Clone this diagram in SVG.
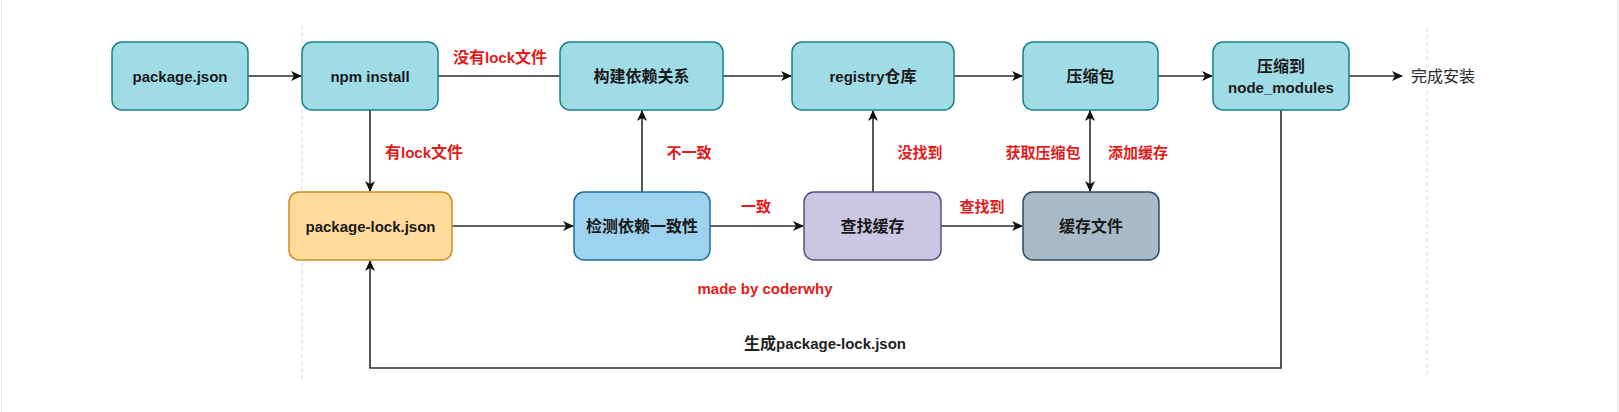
<svg xmlns="http://www.w3.org/2000/svg" width="1619" height="412" viewBox="0 0 1619 412">
<style>
.bg{fill:#ffffff}
.frame{stroke:#ececec;stroke-width:1;fill:none}
.guide{stroke:#d8d8d8;stroke-width:1;stroke-dasharray:4 3;fill:none}
.box{stroke-width:1.5}
.cyan{fill:#a0dce6;stroke:#16808b}
.orange{fill:#ffdb9c;stroke:#d28a1e}
.blue{fill:#9dd3ef;stroke:#1f6c9c}
.purple{fill:#cbc7e3;stroke:#56517e}
.slate{fill:#a8bac7;stroke:#2f4a5c}
text{font-family:"Liberation Sans","Noto Sans CJK SC",sans-serif;dominant-baseline:central}
.t{font-size:15px;font-weight:bold;fill:#1a1a1a;text-anchor:middle}
.c{font-size:16px}
.r{font-size:15px;font-weight:bold;fill:#e31b1b;text-anchor:middle}
.k{font-size:16px;fill:#2a2a2a}
.bl{font-size:15px;font-weight:bold;fill:#222;text-anchor:middle}
.e{stroke:#2b2b2b;stroke-width:1.6;fill:none}
</style>
<defs>
<marker id="ah" markerWidth="12" markerHeight="10" refX="10" refY="5" orient="auto" markerUnits="userSpaceOnUse">
<path d="M0,0 L11,5 L0,10 L3,5 z" fill="#111"/>
</marker>
<marker id="as" markerWidth="12" markerHeight="10" refX="1" refY="5" orient="auto" markerUnits="userSpaceOnUse">
<path d="M11,0 L0,5 L11,10 L8,5 z" fill="#111"/>
</marker>
</defs>
<rect class="bg" x="0" y="0" width="1619" height="412"/>
<line class="frame" x1="1.5" y1="0" x2="1.5" y2="412"/>
<line class="frame" x1="1617.5" y1="0" x2="1617.5" y2="412"/>
<line class="guide" x1="302" y1="25" x2="302" y2="380"/>
<line class="guide" x1="1427" y1="28" x2="1427" y2="377"/>

<g id="connectors">
<path class="e" d="M248,76 H301" marker-end="url(#ah)"/>
<path class="e" d="M438,76 H560"/>
<path class="e" d="M723,76 H791" marker-end="url(#ah)"/>
<path class="e" d="M954,76 H1022" marker-end="url(#ah)"/>
<path class="e" d="M1158,76 H1212" marker-end="url(#ah)"/>
<path class="e" d="M1349,76 H1402" marker-end="url(#ah)"/>
<path class="e" d="M370,110 V191" marker-end="url(#ah)"/>
<path class="e" d="M452,226 H573" marker-end="url(#ah)"/>
<path class="e" d="M710,226 H803" marker-end="url(#ah)"/>
<path class="e" d="M941,226 H1022" marker-end="url(#ah)"/>
<path class="e" d="M642,192 V111" marker-end="url(#ah)"/>
<path class="e" d="M873,192 V111" marker-end="url(#ah)"/>
<path class="e" d="M1090,111 V191" marker-start="url(#as)" marker-end="url(#ah)"/>
<path class="e" d="M1281,110 V368 H370 V261" marker-end="url(#ah)"/>
<text class="r" x="500" y="57"><tspan class="c">没有</tspan>lock<tspan class="c">文件</tspan></text>
<text class="r" x="424" y="152"><tspan class="c">有</tspan>lock<tspan class="c">文件</tspan></text>
<text class="r c" x="689" y="152">不一致</text>
<text class="r c" x="920" y="152">没找到</text>
<text class="r c" x="1043" y="152">获取压缩包</text>
<text class="r c" x="1138" y="152">添加缓存</text>
<text class="r c" x="756" y="206">一致</text>
<text class="r c" x="982" y="206">查找到</text>
<text class="k" x="1411" y="76">完成安装</text>
<text class="bl" x="825" y="343"><tspan class="c">生成</tspan>package-lock.json</text>
</g>

<g id="n-package-json"><rect class="box cyan" x="112" y="42" width="136" height="68" rx="10"/><text class="t" x="180" y="76">package.json</text></g>
<g id="n-npm-install"><rect class="box cyan" x="302" y="42" width="136" height="68" rx="10"/><text class="t" x="370" y="76">npm install</text></g>
<g id="n-build-deps"><rect class="box cyan" x="560" y="42" width="163" height="68" rx="10"/><text class="t c" x="641.5" y="76">构建依赖关系</text></g>
<g id="n-registry"><rect class="box cyan" x="792" y="42" width="162" height="68" rx="10"/><text class="t" x="873" y="76">registry<tspan class="c">仓库</tspan></text></g>
<g id="n-tarball"><rect class="box cyan" x="1023" y="42" width="135" height="68" rx="10"/><text class="t c" x="1090.5" y="76">压缩包</text></g>
<g id="n-node-modules"><rect class="box cyan" x="1213" y="42" width="136" height="68" rx="10"/><text class="t c" x="1281" y="66">压缩到</text><text class="t" x="1281" y="87">node_modules</text></g>
<g id="n-package-lock"><rect class="box orange" x="289" y="192" width="163" height="68" rx="10"/><text class="t" x="370.5" y="226">package-lock.json</text></g>
<g id="n-check"><rect class="box blue" x="574" y="192" width="136" height="68" rx="10"/><text class="t c" x="642" y="226">检测依赖一致性</text></g>
<g id="n-find-cache"><rect class="box purple" x="804" y="192" width="137" height="68" rx="10"/><text class="t c" x="872.5" y="226">查找缓存</text></g>
<g id="n-cache-file"><rect class="box slate" x="1023" y="192" width="136" height="68" rx="10"/><text class="t c" x="1091" y="226">缓存文件</text></g>

<text class="r" x="765" y="288">made by coderwhy</text>
</svg>
